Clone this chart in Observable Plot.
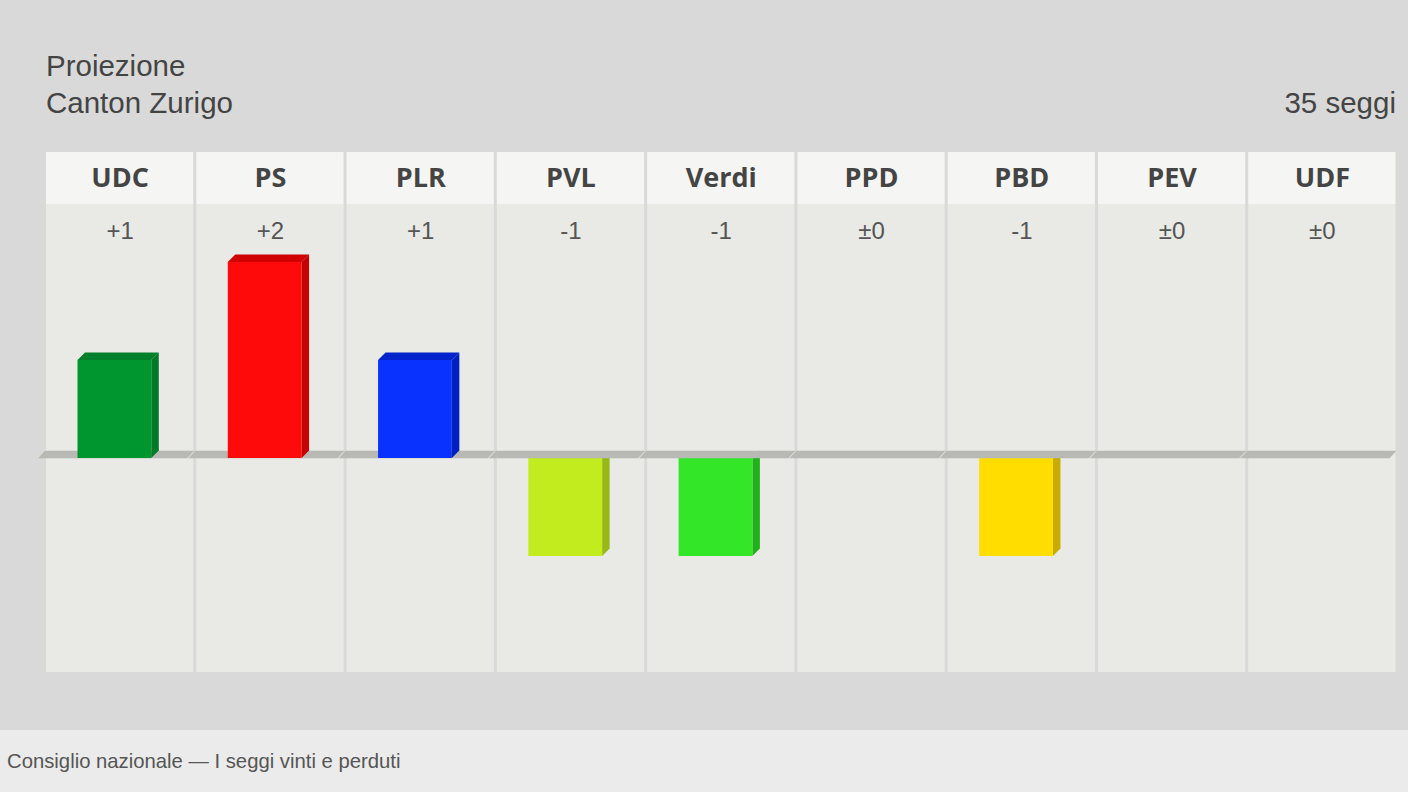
<!DOCTYPE html>
<html><head><meta charset="utf-8">
<script src="https://cdn.jsdelivr.net/npm/d3@7"></script>
<script src="https://cdn.jsdelivr.net/npm/@observablehq/plot@0.6"></script>
<style>
html,body{margin:0;padding:0;width:1408px;height:792px;overflow:hidden;background:#d9d9d9;font-family:"Liberation Sans",Arial,sans-serif;}
#page{position:relative;width:1408px;height:792px;}
.t{position:absolute;color:#444;font-size:29.5px;line-height:1;white-space:nowrap;}
#footer{position:absolute;left:0;top:730px;width:1408px;height:62px;background:#ebebeb;}
#cap{position:absolute;left:7px;top:751px;font-size:20.3px;line-height:1;color:#555;white-space:nowrap;}
#chart{position:absolute;left:0;top:140px;}
</style></head>
<body><div id="page">
<div class="t" style="left:46px;top:51px">Proiezione</div>
<div class="t" style="left:46px;top:88px">Canton Zurigo</div>
<div class="t" style="right:12px;top:88px">35 seggi</div>
<div id="chart"></div>
<div id="footer"></div>
<div id="cap">Consiglio nazionale — I seggi vinti e perduti</div>
</div>
<script>
const parties = ["UDC","PS","PLR","PVL","Verdi","PPD","PBD","PEV","UDF"];
const changes = [1, 2, 1, -1, -1, 0, -1, 0, 0];
const changeLabels = ["+1","+2","+1","-1","-1","±0","-1","±0","±0"];
const frontColors = ["#00962f","#ff0a0a","#0a32ff","#c2ec1e","#33e628","#ffdd00","#ffdd00","#999","#999"];
const sideColors  = ["#007a26","#c80000","#0020c0","#98b818","#22b01c","#c8ad00","#c8ad00","#777","#777"];
const topColors   = ["#00802a","#d00000","#0024cc","#a0c018","#26b81e","#d0b400","#d0b400","#888","#888"];

const data = parties.map((p, i) => ({i, party: p, v: changes[i], label: changeLabels[i],
  front: frontColors[i], side: sideColors[i], top: topColors[i]}));
const gains = data.filter(d => d.v > 0);
const losses = data.filter(d => d.v < 0);

// layout (in seat units along y)
const headerTop = 3.122, headerBottom = 2.592, bodyBottom = -2.184;
const labelY = 2.857, valueY = 2.316;
const depth = 7.5, insL = 33, insR = 43.5;

function box3d(rows) {
  return function(index, scales, values, dims, ctx, next) {
    const g = next(index, scales, values, dims, ctx);
    const sel = d3.select(g);
    for (const i of index) {
      const L = Math.min(values.x1[i], values.x2[i]) + insL;
      const R = Math.max(values.x1[i], values.x2[i]) - insR;
      const T = Math.min(values.y1[i], values.y2[i]);
      const B = Math.max(values.y1[i], values.y2[i]);
      sel.insert("path", ":first-child")
        .attr("d", `M${R},${T}L${R+depth},${T-depth}L${R+depth},${B-depth}L${R},${B}Z`)
        .attr("fill", rows[i].side);
      if (rows[i].v > 0) {
        sel.insert("path", ":first-child")
          .attr("d", `M${L},${T}L${L+depth},${T-depth}L${R+depth},${T-depth}L${R},${T}Z`)
          .attr("fill", rows[i].top);
      }
    }
    return g;
  };
}

function band(index, scales, values, dims, ctx, next) {
  const g = d3.create("svg:g");
  for (const i of index) {
    const L = Math.min(values.x1[i], values.x2[i]) + 1.5;
    const R = Math.max(values.x1[i], values.x2[i]) - 1.5;
    const Y = values.y1[i];
    g.append("path")
      .attr("d", `M${L-8},${Y+0.3}L${L-1},${Y-7.3}L${R+1},${Y-7.3}L${R-6},${Y+0.3}Z`)
      .attr("fill", "#b8b8b4");
  }
  return g.node();
}

const xs = {x1: d => d.i - 0.5, x2: d => d.i + 0.5};

const chart = Plot.plot({
  width: 1408, height: 545, margin: 0,
  style: {background: "transparent", overflow: "visible"},
  x: {type: "linear", domain: [-0.5, 8.5], range: [44.5, 1397], axis: null},
  y: {type: "linear", domain: [-1, 1], range: [318 + 98, 318 - 98], axis: null},
  color: {type: "identity"},
  marks: [
    Plot.rect(data, {...xs, y1: bodyBottom, y2: headerBottom, fill: "#e9e9e5", insetLeft: 1.5, insetRight: 1.5}),
    Plot.rect(data, {...xs, y1: headerBottom, y2: headerTop, fill: "#f5f5f3", insetLeft: 1.5, insetRight: 1.5}),
    Plot.text(data, {x: "i", y: labelY, text: "party", fill: "#444", fontSize: 27, fontWeight: "bold", fontFamily: "'Open Sans', sans-serif"}),
    Plot.text(data, {x: "i", y: valueY, text: "label", fill: "#555", fontSize: 24, fontFamily: "'Liberation Sans', Arial, sans-serif"}),
    Plot.rect(losses, {...xs, y1: 0, y2: "v", fill: "front", insetLeft: insL, insetRight: insR, render: box3d(losses)}),
    Plot.rect(data, {...xs, y1: 0, y2: 0, render: band}),
    Plot.rect(gains, {...xs, y1: 0, y2: "v", fill: "front", insetLeft: insL, insetRight: insR, render: box3d(gains)})
  ]
});
document.getElementById("chart").appendChild(chart);
</script>
</body></html>
